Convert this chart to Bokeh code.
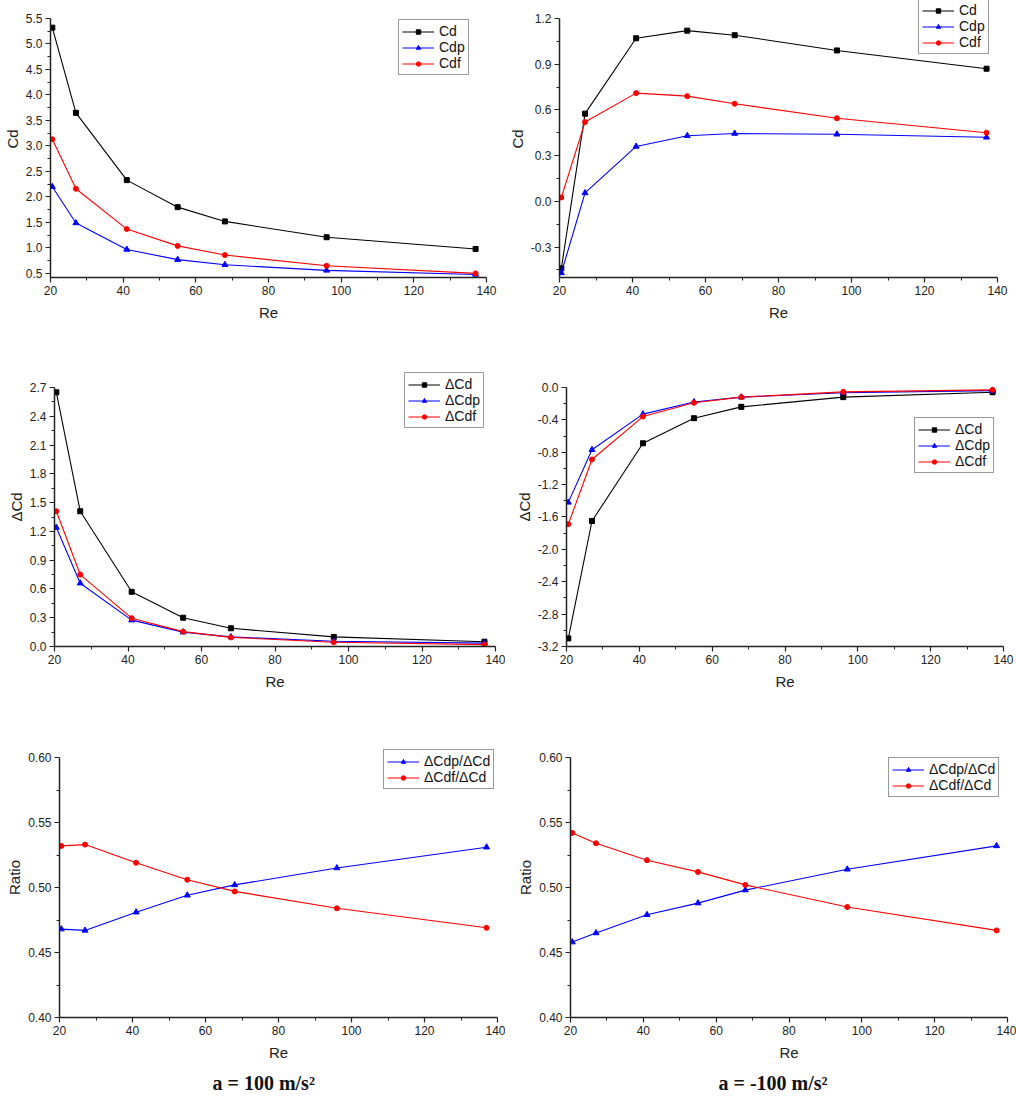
from bokeh.plotting import figure
from bokeh.models import Range1d, FixedTicker, NumeralTickFormatter, Legend, LegendItem, Title
from bokeh.layouts import column, row
from bokeh.embed import file_html
from bokeh.resources import INLINE

# ---------------- data ----------------
re_vals = [20.5, 27, 41, 55, 68, 96, 137]

# a = 100 m/s^2 (left column)
cd_pos = [5.32, 3.65, 2.33, 1.80, 1.52, 1.21, 0.98]
cdp_pos = [2.20, 1.49, 0.97, 0.77, 0.67, 0.56, 0.48]
cdf_pos = [3.13, 2.16, 1.37, 1.04, 0.86, 0.65, 0.50]
dcd_pos = [2.65, 1.41, 0.57, 0.30, 0.19, 0.10, 0.05]
dcdp_pos = [1.24, 0.66, 0.275, 0.15, 0.10, 0.055, 0.035]
dcdf_pos = [1.41, 0.75, 0.295, 0.155, 0.095, 0.045, 0.02]
ratio_p_pos = [0.468, 0.467, 0.481, 0.494, 0.502, 0.515, 0.531]
ratio_f_pos = [0.532, 0.533, 0.519, 0.506, 0.497, 0.484, 0.469]

# a = -100 m/s^2 (right column)
cd_neg = [-0.44, 0.575, 1.07, 1.12, 1.09, 0.99, 0.87]
cdp_neg = [-0.47, 0.055, 0.36, 0.43, 0.445, 0.44, 0.42]
cdf_neg = [0.025, 0.52, 0.71, 0.69, 0.64, 0.545, 0.45]
dcd_neg = [-3.10, -1.65, -0.69, -0.38, -0.24, -0.12, -0.06]
dcdp_neg = [-1.42, -0.77, -0.33, -0.18, -0.12, -0.065, -0.04]
dcdf_neg = [-1.69, -0.89, -0.36, -0.19, -0.12, -0.055, -0.03]
ratio_p_neg = [0.458, 0.465, 0.479, 0.488, 0.498, 0.514, 0.532]
ratio_f_neg = [0.542, 0.534, 0.521, 0.512, 0.502, 0.485, 0.467]

x_ticks = [20, 40, 60, 80, 100, 120, 140]
x_minor = [30, 50, 70, 90, 110, 130]

FONT = "Liberation Sans"
AX = "#222222"
EXT = 20  # extra pixels of frame above the axis top (room for legends)


def frange(a, b, step):
    out = []
    n = int(round((b - a) / step))
    for i in range(n + 1):
        out.append(round(a + i * step, 4))
    return out


def panel(w, h, bl, br, bt, bb, yr, y_major, y_minor, fmt, ylabel, series, loc,
          caption=None, cap_offset=0):
    y0, y1 = yr
    fh = h - bt - bb
    ext = min(EXT, bt)
    y1_ext = y1 + ext * (y1 - y0) / fh
    p = figure(width=w, height=h, output_backend="svg", toolbar_location=None,
               x_range=Range1d(20, 140), y_range=Range1d(y0, y1_ext),
               min_border_left=bl, min_border_right=br,
               min_border_top=bt - ext, min_border_bottom=bb)
    p.outline_line_color = None
    p.grid.visible = False
    p.background_fill_color = "white"
    p.border_fill_color = "white"

    p.xaxis.ticker = FixedTicker(ticks=x_ticks, minor_ticks=x_minor)
    p.yaxis.ticker = FixedTicker(ticks=y_major, minor_ticks=y_minor)
    p.yaxis.bounds = (y0, y1)
    p.yaxis.formatter = NumeralTickFormatter(format=fmt)
    p.xaxis.axis_label = "Re"
    p.yaxis.axis_label = ylabel
    for ax in (p.xaxis, p.yaxis):
        ax.axis_line_color = AX
        ax.axis_line_width = 1.5
        ax.major_tick_line_color = AX
        ax.minor_tick_line_color = AX
        ax.major_tick_line_width = 1.2
        ax.major_tick_out = 5
        ax.major_tick_in = 0
        ax.minor_tick_out = 3
        ax.minor_tick_in = 0
        ax.major_label_text_font = FONT
        ax.major_label_text_font_size = "12px"
        ax.major_label_text_color = AX
        ax.major_label_standoff = 3
        ax.axis_label_text_font = FONT
        ax.axis_label_text_font_size = "15px"
        ax.axis_label_text_font_style = "normal"
        ax.axis_label_text_color = AX
    p.xaxis.axis_label_standoff = 6
    p.yaxis.axis_label_standoff = 2

    items = []
    for label, vals, color, marker, size in series:
        lr = p.line(re_vals, vals, line_color=color, line_width=1.1)
        sr = p.scatter(re_vals, vals, marker=marker, size=size,
                       fill_color=color, line_color=color)
        items.append(LegendItem(label=label, renderers=[lr, sr]))
    lg = Legend(items=items, location=loc)
    lg.border_line_color = "#333333"
    lg.border_line_width = 1.6
    lg.background_fill_color = "white"
    lg.background_fill_alpha = 1.0
    lg.label_text_font = FONT
    lg.label_text_font_size = "14px"
    lg.label_text_color = "#111111"
    lg.glyph_width = 32
    lg.glyph_height = 11
    lg.label_height = 16
    lg.label_standoff = 5
    lg.padding = 3
    lg.spacing = 0
    lg.margin = 0
    p.add_layout(lg)

    if caption:
        p.add_layout(Title(text=caption, align="left", text_font="Liberation Serif",
                           text_font_size="20px", text_font_style="bold",
                           text_color="#111111", offset=cap_offset, standoff=12), "below")
    return p


def trio(a, b, c, names):
    return [(names[0], a, "#000000", "square", 5),
            (names[1], b, "#0000FF", "triangle", 6),
            (names[2], c, "#FF0000", "circle", 5)]


cd_names = ["Cd", "Cdp", "Cdf"]
dcd_names = ["\u0394Cd", "\u0394Cdp", "\u0394Cdf"]
ratio_names = ["\u0394Cdp/\u0394Cd", "\u0394Cdf/\u0394Cd"]

p1 = panel(505, 340, 49, 19, 18, 63, (0.42, 5.5), frange(0.5, 5.5, 0.5), frange(0.75, 5.25, 0.5),
           "0.0", "Cd", trio(cd_pos, cdp_pos, cdf_pos, cd_names), (348, 202))
p2 = panel(511, 340, 54, 19, 18, 62, (-0.5, 1.2), frange(-0.3, 1.2, 0.3), frange(-0.45, 1.05, 0.3),
           "0.0", "Cd", trio(cd_neg, cdp_neg, cdf_neg, cd_names), (359, 223))
p3 = panel(505, 370, 54, 10, 47, 64, (0.0, 2.7), frange(0.0, 2.7, 0.3), frange(0.15, 2.55, 0.3),
           "0.0", "\u0394Cd", trio(dcd_pos, dcdp_pos, dcdf_pos, dcd_names), (350, 218))
p4 = panel(511, 370, 61, 13, 47, 63, (-3.2, 0.0), frange(-3.2, 0.0, 0.4), frange(-3.0, -0.2, 0.4),
           "0.0", "\u0394Cd", trio(dcd_neg, dcdp_neg, dcdf_neg, dcd_names), (348, 173))
p5 = panel(505, 389, 59, 8, 47, 82, (0.40, 0.60), frange(0.40, 0.60, 0.05), frange(0.425, 0.575, 0.05),
           "0.00", "Ratio",
           [(ratio_names[0], ratio_p_pos, "#0000FF", "triangle", 6),
            (ratio_names[1], ratio_f_pos, "#FF0000", "circle", 5)], (324, 228),
           caption="a = 100 m/s\u00b2", cap_offset=153)
p6 = panel(511, 389, 65, 9, 47, 82, (0.40, 0.60), frange(0.40, 0.60, 0.05), frange(0.425, 0.575, 0.05),
           "0.00", "Ratio",
           [(ratio_names[0], ratio_p_neg, "#0000FF", "triangle", 6),
            (ratio_names[1], ratio_f_neg, "#FF0000", "circle", 5)], (318, 220),
           caption="a = -100 m/s\u00b2", cap_offset=148)

layout = column(row(p1, p2, spacing=0), row(p3, p4, spacing=0), row(p5, p6, spacing=0), spacing=0)

open("out.html", "w").write(file_html(layout, INLINE))
